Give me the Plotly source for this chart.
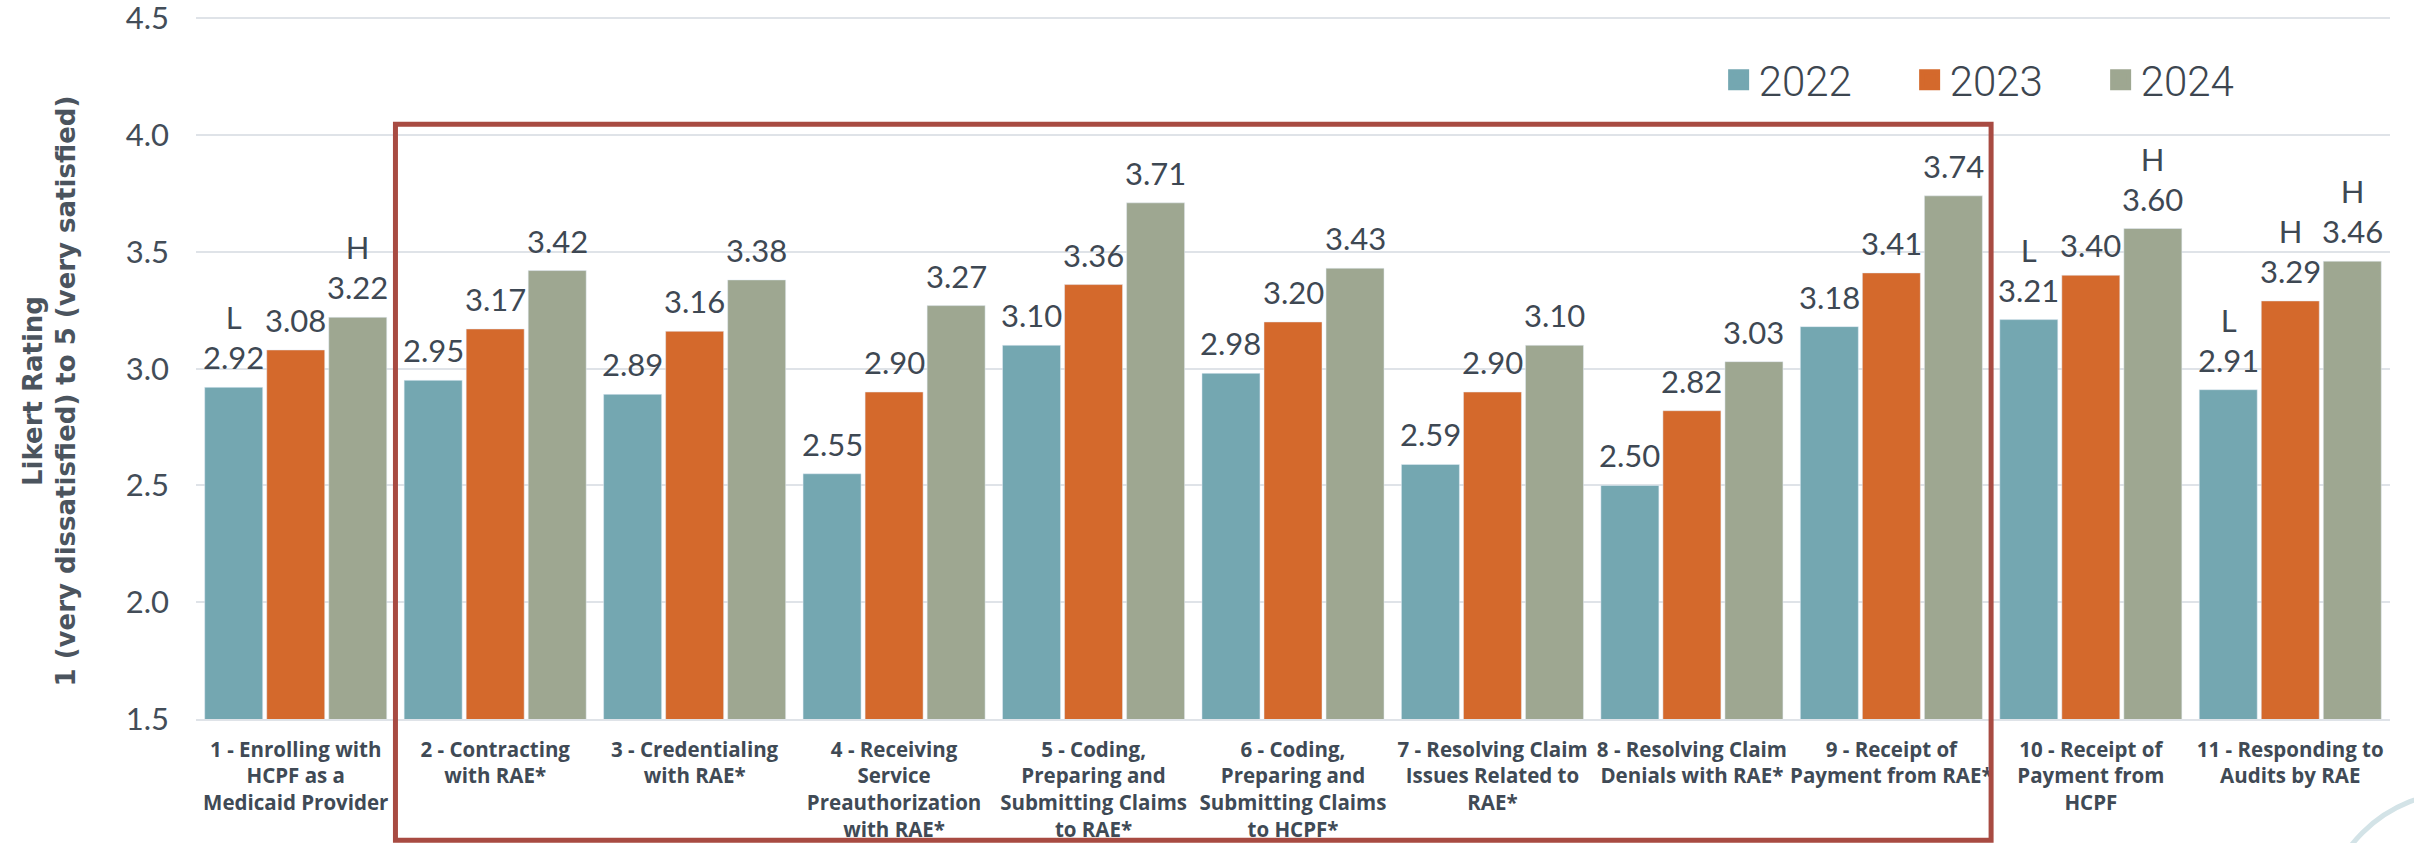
import plotly.graph_objects as go

# Survey categories (x axis tick labels)
categories = [
    "1 - Enrolling with<br>HCPF as a<br>Medicaid Provider",
    "2 - Contracting<br>with RAE*",
    "3 - Credentialing<br>with RAE*",
    "4 - Receiving<br>Service<br>Preauthorization<br>with RAE*",
    "5 - Coding,<br>Preparing and<br>Submitting Claims<br>to RAE*",
    "6 - Coding,<br>Preparing and<br>Submitting Claims<br>to HCPF*",
    "7 - Resolving Claim<br>Issues Related to<br>RAE*",
    "8 - Resolving Claim<br>Denials with RAE*",
    "9 - Receipt of<br>Payment from RAE*",
    "10 - Receipt of<br>Payment from<br>HCPF",
    "11 - Responding to<br>Audits by RAE",
]

years = ["2022", "2023", "2024"]

# Mean Likert ratings per year
ratings_2022 = [2.92, 2.95, 2.89, 2.55, 3.10, 2.98, 2.59, 2.50, 3.18, 3.21, 2.91]
ratings_2023 = [3.08, 3.17, 3.16, 2.90, 3.36, 3.20, 2.90, 2.82, 3.41, 3.40, 3.29]
ratings_2024 = [3.22, 3.42, 3.38, 3.27, 3.71, 3.43, 3.10, 3.03, 3.74, 3.60, 3.46]

# Significance flags (L = significantly lower, H = significantly higher)
flags_2022 = ["L", "", "", "", "", "", "", "", "", "L", "L"]
flags_2023 = ["", "", "", "", "", "", "", "", "", "", "H"]
flags_2024 = ["H", "", "", "", "", "", "", "", "", "H", "H"]

series = [
    (years[0], ratings_2022, flags_2022, "#74a7b1"),
    (years[1], ratings_2023, flags_2023, "#d4692c"),
    (years[2], ratings_2024, flags_2024, "#9ea791"),
]

TEXT = "#3e4853"
BAR_GAP = 0.067
GROUP_GAP = 0.065

fig = go.Figure()

n_series = len(series)
slot = (1 - BAR_GAP) / n_series
annotations = []
for j, (name, vals, flags, color) in enumerate(series):
    fig.add_trace(go.Bar(
        x=categories, y=vals, name=name, marker_color=color,
        showlegend=False, legendgroup=name,
    ))
    # legend entry with a larger square swatch
    fig.add_trace(go.Scatter(
        x=[None], y=[None], mode="markers", name=name, legendgroup=name,
        marker=dict(symbol="square", size=16, color=color,
                    line=dict(color=color, width=5)),
    ))
    offset = (j - (n_series - 1) / 2) * slot
    for i, (v, f) in enumerate(zip(vals, flags)):
        label = f"{v:.2f}" if not f else f"{f}<br>{v:.2f}"
        annotations.append(dict(
            x=i + offset, y=v, xref="x", yref="y", text=label,
            showarrow=False, yanchor="bottom", xanchor="center", yshift=9,
            font=dict(family="Lato", size=31, color=TEXT),
        ))

# y-axis title
annotations.append(dict(
    text="Likert Rating<br>1 (very dissatisfied) to 5 (very satisfied)",
    xref="paper", yref="paper", x=0, y=0.466, xshift=-146,
    textangle=-90, showarrow=False, xanchor="center", yanchor="middle",
    font=dict(family="DejaVu Sans", size=26, color="#4b545e", weight="bold"),
))

shapes = [
    # outline around the RAE-related measures
    dict(type="rect", xref="x", yref="paper", x0=0.5, x1=8.5,
         y0=-0.1726, y1=0.8459, line=dict(color="#a84b42", width=5),
         fillcolor="rgba(0,0,0,0)", layer="above"),
    # decorative arc in the corner
    dict(type="circle", xref="paper", yref="paper", x0=0.969, x1=1.0948,
         y0=-0.4979, y1=-0.1041, line=dict(color="#d3e3e7", width=5)),
]

fig.update_layout(
    width=2414, height=843,
    margin=dict(l=196, r=24, t=16, b=124, autoexpand=False),
    paper_bgcolor="white", plot_bgcolor="white",
    barmode="group", bargap=BAR_GAP, bargroupgap=GROUP_GAP,
    annotations=annotations, shapes=shapes,
    legend=dict(
        orientation="h", x=0.694, y=0.909, xanchor="left", yanchor="middle",
        font=dict(family="Roboto", size=42, color="#3d4650", weight=300),
        entrywidthmode="pixels", entrywidth=146, itemwidth=30,
        bgcolor="rgba(0,0,0,0)",
    ),
    showlegend=True,
)

fig.update_xaxes(
    type="category", showgrid=False, showline=True, linecolor="#dfe3e8", linewidth=2,
    tickfont=dict(family="Open Sans", size=20.5, color="#404a55", weight="bold"),
    tickangle=0, ticks="", ticklabelstandoff=11, fixedrange=True, automargin=False,
)
fig.update_yaxes(
    range=[1.5, 4.51], tickvals=[1.5, 2.0, 2.5, 3.0, 3.5, 4.0, 4.5], tickformat=".1f",
    showgrid=True, gridcolor="#dfe3e8", gridwidth=2, zeroline=False,
    tickfont=dict(family="Lato", size=31, color="#434d58"),
    ticks="", ticklabelstandoff=26, ticklabeloverflow="allow",
    fixedrange=True, automargin=False,
)

fig.write_html("out.html")
